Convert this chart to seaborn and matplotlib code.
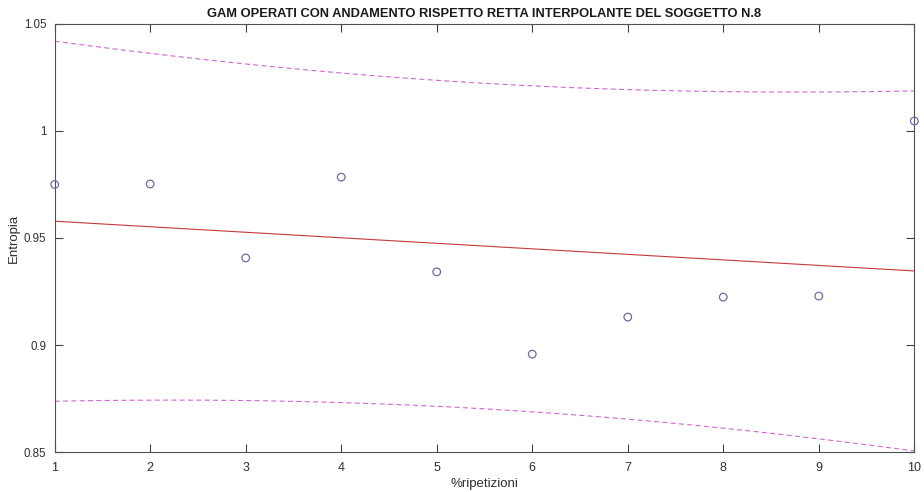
import numpy as np
import pandas as pd
import matplotlib
matplotlib.use("Agg")
import matplotlib.pyplot as plt
import seaborn as sns

# data
ripetizioni = [1, 2, 3, 4, 5, 6, 7, 8, 9, 10]
entropia = [0.9750, 0.9752, 0.9407, 0.9784, 0.9342, 0.8958, 0.9131, 0.9224, 0.9229, 1.0046]
title = "GAM OPERATI CON ANDAMENTO RISPETTO RETTA INTERPOLANTE DEL SOGGETTO N.8"
xticks = [1, 2, 3, 4, 5, 6, 7, 8, 9, 10]
yticks = [0.85, 0.9, 0.95, 1.0, 1.05]
yticklabels = ["0.85", "0.9", "0.95", "1", "1.05"]

sns.set_theme(style="white")
plt.rcParams['font.family'] = ['Liberation Sans', 'DejaVu Sans']

x = np.asarray(ripetizioni, dtype=float)
y = np.asarray(entropia, dtype=float)

# linear fit with +/- 2*delta prediction bounds (as polyfit/polyval with S)
p = np.polyfit(x, y, 1)
xf = np.linspace(x.min(), x.max(), 200)
yf = np.polyval(p, xf)
res = y - np.polyval(p, x)
n = len(x)
s = np.sqrt(np.sum(res ** 2) / (n - 2))
xbar = x.mean()
sxx = np.sum((x - xbar) ** 2)
delta = s * np.sqrt(1 + 1 / n + (xf - xbar) ** 2 / sxx)

df_pts = pd.DataFrame({"x": x, "y": y})
df_fit = pd.DataFrame({"x": xf, "fit": yf, "up": yf + 2 * delta, "lo": yf - 2 * delta})

fig = plt.figure(figsize=(9.24, 4.92), dpi=100)
ax = fig.add_axes([54.7 / 924, 1 - 452.3 / 492, (914.3 - 54.7) / 924, (452.3 - 23.7) / 492])

sns.scatterplot(data=df_pts, x="x", y="y", ax=ax, marker="o", s=30,
                facecolor="none", edgecolor="#75689f", linewidth=0.9, zorder=3)
for c in ax.collections:
    c.set_clip_on(False)
sns.lineplot(data=df_fit, x="x", y="fit", ax=ax, color="#c8393c", linewidth=0.8)
sns.lineplot(data=df_fit, x="x", y="up", ax=ax, color="#d066d4", linewidth=0.8)
sns.lineplot(data=df_fit, x="x", y="lo", ax=ax, color="#d066d4", linewidth=0.8)
for ln in ax.lines[1:]:
    ln.set_dashes([4.5, 3])

ax.set_xlim(1, 10)
ax.set_ylim(0.85, 1.05)
ax.set_xticks(xticks)
ax.set_xticklabels([str(t) for t in xticks])
ax.set_yticks(yticks)
ax.set_yticklabels(yticklabels)

ax.tick_params(axis="both", direction="in", length=6, width=0.8, color="#404040",
               labelcolor="#303030", top=True, right=True,
               bottom=True, left=True)
ax.tick_params(axis="x", pad=7, labelsize=9)
ax.tick_params(axis="y", pad=6, labelsize=8.3)
for sp in ax.spines.values():
    sp.set_visible(True)
    sp.set_color("#505050")
    sp.set_linewidth(0.8)

ax.set_xlabel("%ripetizioni", fontsize=9.5, color="#303030")
ax.set_ylabel("Entropia", fontsize=9.5, color="#303030")
ax.xaxis.set_label_coords(0.5, -0.075, transform=ax.transAxes)
ax.yaxis.set_label_coords(-0.047, 0.5, transform=ax.transAxes)
ax.xaxis.label.set_va("center")
ax.yaxis.label.set_va("center")
ax.set_title(title, fontsize=9.3, fontweight="bold", color="#1a1a1a", pad=5)

fig.savefig("out.png", dpi=100)
